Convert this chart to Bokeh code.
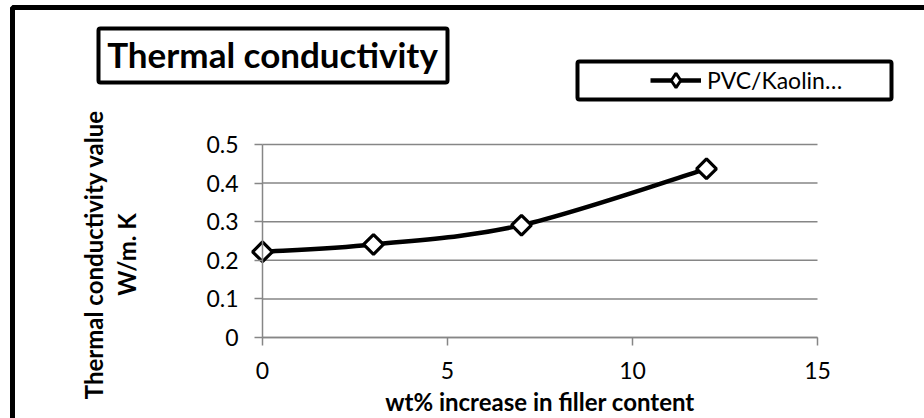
import numpy as np
from bokeh.plotting import figure
from bokeh.models import (BoxAnnotation, Label, Legend, LegendItem, FixedTicker,
                          Range1d, ColumnDataSource, LinearAxis)
from bokeh.embed import file_html
from bokeh.resources import INLINE

# ---- data -------------------------------------------------------------
filler_wt = [0, 3, 7, 12]                       # wt% filler
conductivity = [0.222, 0.241, 0.291, 0.437]     # W/m.K
x_ticks = [0, 5, 10, 15]
y_ticks = [0, 0.1, 0.2, 0.3, 0.4, 0.5]
y_tick_labels = ["0", "0.1", "0.2", "0.3", "0.4", "0.5"]
series_name = "PVC/Kaolin\u2026"
chart_title = "Thermal conductivity"
x_title = "wt% increase in filler content"
y_title_lines = ["Thermal conductivity value", "W/m. K"]

FONT = "Lato"
GRID = "#868686"

# ---- canvas / plotting area in pixels ------------------------------------
W, H = 924, 418
A_LEFT, A_RIGHT, A_TOP, A_BOTTOM = 262, 817, 144, 337   # where the axes box sits

x0, x1 = x_ticks[0], x_ticks[-1]
y0, y1 = y_ticks[0], y_ticks[-1]
kx = (A_RIGHT - A_LEFT) / (x1 - x0)
ky = (A_BOTTOM - A_TOP) / (y1 - y0)

# the frame fills the whole canvas so nothing (boxes, legend, titles) is clipped
p = figure(width=W, height=H, output_backend="svg", toolbar_location=None,
           x_range=Range1d(x0 - A_LEFT / kx, x1 + (W - A_RIGHT) / kx),
           y_range=Range1d(y0 - (H - A_BOTTOM) / ky, y1 + A_TOP / ky),
           x_axis_location=None, y_axis_location=None,
           min_border=0)
p.outline_line_color = None
p.background_fill_color = "white"
p.border_fill_color = "white"
p.xgrid.visible = False
p.ygrid.visible = False

# horizontal gridlines across the axes box
p.segment(x0=[x0] * len(y_ticks), x1=[x1] * len(y_ticks), y0=y_ticks, y1=y_ticks,
          line_color=GRID, line_width=1.5)

# axes pinned at the origin
xaxis = LinearAxis(fixed_location=y0, bounds=(x0, x1), ticker=FixedTicker(ticks=x_ticks))
yaxis = LinearAxis(fixed_location=x0, bounds=(y0, y1), ticker=FixedTicker(ticks=y_ticks),
                   major_label_overrides={t: s for t, s in zip(y_ticks, y_tick_labels)})
for ax in (xaxis, yaxis):
    ax.axis_line_color = GRID
    ax.axis_line_width = 1.5
    ax.major_tick_line_color = GRID
    ax.major_tick_line_width = 1.5
    ax.major_tick_in = 0
    ax.major_tick_out = 8
    ax.minor_tick_line_color = None
    ax.major_label_text_font = FONT
    ax.major_label_text_font_size = "23px"
    ax.major_label_text_color = "black"
xaxis.major_label_standoff = 16
yaxis.major_label_standoff = 16
p.add_layout(xaxis, "below")
p.add_layout(yaxis, "left")

# ---- smoothed series: cubic Bezier segments through the points ----------
xs = np.array(filler_wt, dtype=float)
ys = np.array(conductivity, dtype=float)
xp = np.concatenate([[xs[0]], xs, [xs[-1]]])
yp = np.concatenate([[ys[0]], ys, [ys[-1]]])
k = 1.0 / 6.0
n = len(xs) - 1
seg = dict(
    x0=xs[:-1], y0=ys[:-1], x1=xs[1:], y1=ys[1:],
    cx0=xs[:-1] + (xp[2:2 + n] - xp[0:n]) * k,
    cy0=ys[:-1] + (yp[2:2 + n] - yp[0:n]) * k,
    cx1=xs[1:] - (xp[3:3 + n] - xp[1:1 + n]) * k,
    cy1=ys[1:] - (yp[3:3 + n] - yp[1:1 + n]) * k,
)
curve = p.bezier(x0="x0", y0="y0", x1="x1", y1="y1", cx0="cx0", cy0="cy0",
                 cx1="cx1", cy1="cy1", source=ColumnDataSource(seg),
                 line_color="black", line_width=4.5)

points = p.scatter(filler_wt, conductivity, marker="square", angle=np.pi / 4,
                   size=14, fill_color="white", line_color="black", line_width=3.2)

# legend key marker (legend glyphs are drawn unrotated, so use a diamond shape)
key_marker = p.scatter(filler_wt, conductivity, marker="diamond", size=14,
                       fill_color="white", line_color="black", line_width=3,
                       visible=False)


def sy(py):
    # screen units run upward from the bottom edge of the canvas
    return H - py


def box(left, top, right, bottom, width, fill=True, radius=2):
    return BoxAnnotation(left=left, right=right, top=sy(top), bottom=sy(bottom),
                         left_units="screen", right_units="screen",
                         top_units="screen", bottom_units="screen",
                         fill_color="white", fill_alpha=1 if fill else 0,
                         line_color="black", line_alpha=1, line_width=width,
                         border_radius=radius)


# ---- outer chart border -------------------------------------------------
p.add_layout(box(12, 7, W + 20, H + 20, 5, fill=False, radius=0))

# ---- title box ----------------------------------------------------------
p.add_layout(box(98, 28, 447, 82, 4))
p.add_layout(Label(x=272, y=sy(53), x_units="screen", y_units="screen",
                   text=chart_title, text_font=FONT, text_font_size="35px",
                   text_font_style="bold", text_align="center",
                   text_baseline="alphabetic", text_color="black"))

# ---- legend box + legend ------------------------------------------------
p.add_layout(box(577, 61, 891, 99, 4))
legend = Legend(items=[LegendItem(label=series_name, renderers=[curve, key_marker])],
                location=(650, sy(98)), padding=0, spacing=0, margin=0,
                glyph_width=51, glyph_height=36, label_height=36, label_standoff=6,
                label_text_font=FONT, label_text_font_size="23px",
                label_text_color="black",
                border_line_alpha=0, background_fill_alpha=0)
p.add_layout(legend)

# ---- axis titles --------------------------------------------------------
p.add_layout(Label(x=(A_LEFT + A_RIGHT) / 2, y=sy(400.5), x_units="screen",
                   y_units="screen", text=x_title, text_font=FONT,
                   text_font_size="24px", text_font_style="bold",
                   text_align="center", text_baseline="alphabetic",
                   text_color="black"))
for line, base_px in zip(y_title_lines, [92.5, 125.5]):
    p.add_layout(Label(x=base_px, y=sy(254), x_units="screen", y_units="screen",
                       text=line, text_font=FONT, text_font_size="24px",
                       text_font_style="bold", angle=np.pi / 2,
                       text_align="center", text_baseline="alphabetic",
                       text_color="black"))

open("out.html", "w").write(file_html(p, INLINE))
